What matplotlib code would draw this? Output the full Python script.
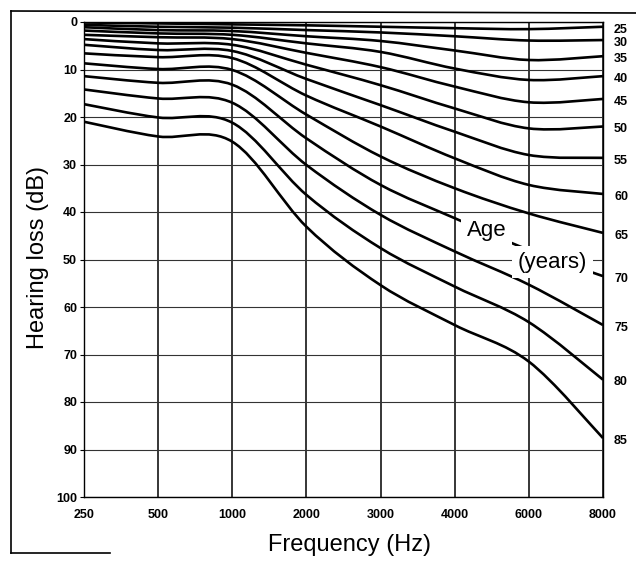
import numpy as np
import matplotlib
matplotlib.use("Agg")
import matplotlib.pyplot as plt
from matplotlib.path import Path
from matplotlib.patches import PathPatch
from matplotlib.lines import Line2D

plt.rcParams['font.family'] = ['Liberation Sans', 'DejaVu Sans']

# frequency columns (equally spaced categories)
freqs = ["250", "500", "1000", "2000", "3000", "4000", "6000", "8000"]
ages = [25, 30, 35, 40, 45, 50, 55, 60, 65, 70, 75, 80, 85]

# hearing loss (dB) per age curve, one value per frequency column
loss_25 = [0.1, 0.3, 0.5, 0.7, 1.0, 1.3, 1.5, 1.0]
loss_30 = [0.6, 1.0, 1.2, 1.7, 2.2, 3.0, 3.9, 3.8]
loss_35 = [1.1, 1.7, 1.9, 3.0, 4.0, 6.0, 8.0, 7.2]
loss_40 = [1.8, 2.4, 2.7, 4.5, 6.3, 9.8, 12.2, 11.4]
loss_45 = [2.7, 3.2, 3.6, 6.5, 9.5, 13.6, 16.9, 16.2]
loss_50 = [3.6, 4.5, 4.8, 9.0, 13.3, 18.2, 22.4, 22.0]
loss_55 = [4.8, 5.9, 6.1, 12.0, 17.5, 23.1, 28.0, 28.6]
loss_60 = [6.6, 7.4, 7.6, 15.5, 22.0, 28.7, 34.3, 36.2]
loss_65 = [8.7, 9.9, 10.1, 19.5, 28.3, 35.0, 40.3, 44.4]
loss_70 = [11.4, 12.8, 13.2, 24.5, 34.3, 41.3, 48.0, 53.5]
loss_75 = [14.2, 16.1, 17.0, 30.1, 40.6, 48.3, 55.3, 63.8]
loss_80 = [17.3, 20.1, 21.2, 36.4, 47.6, 55.7, 63.2, 75.3]
loss_85 = [21.0, 24.1, 25.2, 43.1, 55.4, 63.8, 71.5, 87.6]

curves = [loss_25, loss_30, loss_35, loss_40, loss_45, loss_50, loss_55,
          loss_60, loss_65, loss_70, loss_75, loss_80, loss_85]


def smooth_path(ys):
    # smoothed line through the points, like a spreadsheet "smooth line"
    pts = np.column_stack([np.arange(len(ys)), ys]).astype(float)
    padded = np.vstack([pts[0], pts, pts[-1]])
    verts = [pts[0]]
    codes = [Path.MOVETO]
    for i in range(len(pts) - 1):
        p0, p1, p2, p3 = padded[i], padded[i + 1], padded[i + 2], padded[i + 3]
        verts += [p1 + (p2 - p0) / 6, p2 - (p3 - p1) / 6, p2]
        codes += [Path.CURVE4] * 3
    return Path(verts, codes)


fig = plt.figure(figsize=(6.36, 5.64), dpi=100)
ax = fig.add_axes([84 / 636, 1 - 497 / 564, 519 / 636, 475 / 564])

ax.set_xlim(0, len(freqs) - 1)
ax.set_ylim(100, 0)
ax.set_xticks(range(len(freqs)))
ax.set_xticklabels(freqs)
ax.set_yticks(range(0, 101, 10))
ax.tick_params(axis='x', length=0, pad=9, labelsize=9)
ax.tick_params(axis='y', length=3, pad=2, labelsize=9)
for lab in ax.get_xticklabels() + ax.get_yticklabels():
    lab.set_fontweight('bold')

ax.grid(axis='x', color='black', lw=1.1)
ax.grid(axis='y', color='#333333', lw=0.8)
for sp in ax.spines.values():
    sp.set_linewidth(1.0)

for age, ys in zip(ages, curves):
    ax.add_patch(PathPatch(smooth_path(ys), fill=False, lw=1.9,
                           edgecolor='black', zorder=3))
    ax.annotate(str(age), xy=(len(freqs) - 1, ys[-1]), xytext=(8, -2),
                textcoords='offset points', va='center', ha='left',
                fontsize=9, fontweight='bold', annotation_clip=False)

box = dict(facecolor='white', edgecolor='none', pad=4)
ax.text(5.43, 43.8, "Age", fontsize=16, ha='center', va='center',
        bbox=box, zorder=5)
ax.text(6.32, 50.6, "(years)", fontsize=16, ha='center', va='center',
        bbox=box, zorder=5)

fig.text(38 / 636, 1 - 258 / 564, "Hearing loss (dB)", rotation=90,
         ha='center', va='center', fontsize=17)
fig.text(350 / 636, 1 - 545 / 564, "Frequency (Hz)", ha='center',
         va='center', fontsize=17)

# chart border from the scan
fig.add_artist(Line2D([11 / 636, 11 / 636], [1 - 553 / 564, 1 - 11 / 564],
                      color='black', lw=1.2))
fig.add_artist(Line2D([11 / 636, 636 / 636], [1 - 11 / 564, 1 - 13 / 564],
                      color='black', lw=1.2))
fig.add_artist(Line2D([11 / 636, 110 / 636], [1 - 553 / 564, 1 - 553 / 564],
                      color='black', lw=1.2))

fig.savefig("out.png", dpi=100)
